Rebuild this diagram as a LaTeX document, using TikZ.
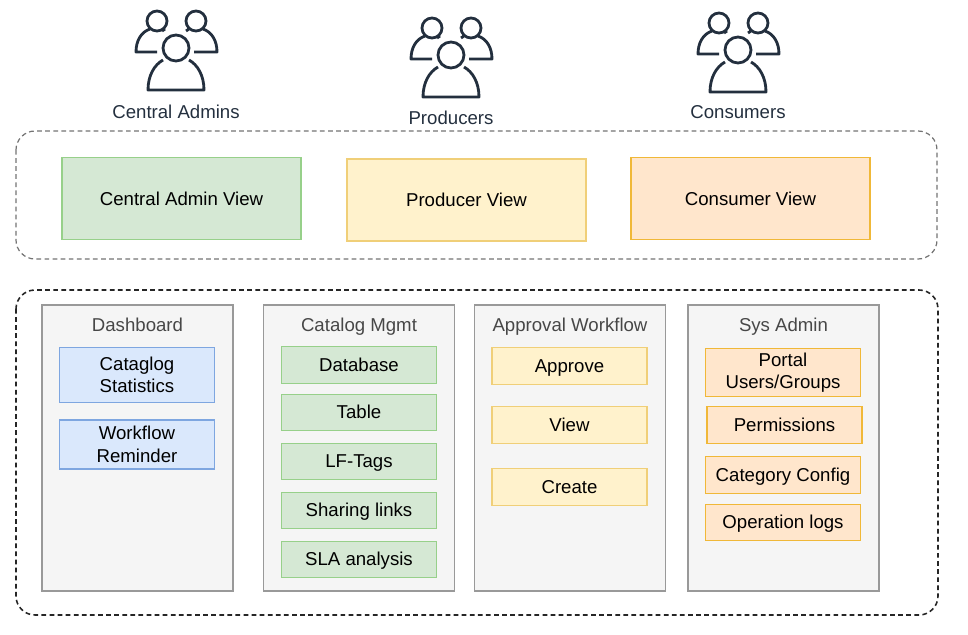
\documentclass[tikz,border=0pt]{standalone}
\usepackage{fontspec}
\setmainfont{Liberation Sans}
\usepackage{xcolor}
\usetikzlibrary{positioning}
\definecolor{navy}{HTML}{232F3E}
\definecolor{greenfill}{HTML}{D5E8D4}
\definecolor{greenline}{HTML}{97D08A}
\definecolor{yellowfill}{HTML}{FFF2CC}
\definecolor{yellowline}{HTML}{F0CF78}
\definecolor{orangefill}{HTML}{FFE6CC}
\definecolor{orangeline}{HTML}{F0B838}
\definecolor{bluefill}{HTML}{DAE8FC}
\definecolor{blueline}{HTML}{7EA6E0}
\definecolor{panelfill}{HTML}{F5F5F5}
\definecolor{panelline}{HTML}{999999}
\tikzset{
	group/.style={rounded corners=0.38cm,dash pattern=on 2.7pt off 1.9pt},
	viewbox/.style={draw,line width=0.8pt,minimum width=4.78cm,minimum height=1.64cm,inner sep=0pt,font=\fontsize{10.6}{12}\selectfont},
	panel/.style={draw=panelline,fill=panelfill,line width=0.9pt,minimum width=3.82cm,minimum height=5.72cm,inner sep=0pt},
	paneltitle/.style={anchor=base,text=black!72,font=\fontsize{10.6}{12}\selectfont},
	item/.style={draw,line width=0.8pt,minimum width=3.1cm,minimum height=0.73cm,inner sep=0pt,align=center,font=\fontsize{10.6}{12.8}\selectfont},
	oneline/.style={text height=7.6pt,text depth=0.3pt},
	dashitem/.style={item,draw=blueline,fill=bluefill},
	catalogitem/.style={item,oneline,draw=greenline,fill=greenfill},
	approvalitem/.style={item,oneline,draw=yellowline,fill=yellowfill},
	sysitem/.style={item,draw=orangeline,fill=orangefill},
	rolelabel/.style={text=navy,anchor=base,font=\fontsize{10.6}{12}\selectfont},
	pics/usergroup/.style={code={
		\draw[navy,line width=1.6pt,line join=round]
			(0,0) circle (0.26cm)
			(-13,12) .. controls (-22,17) and (-28,28) .. (-28,42) -- (28,42) .. controls (28,28) and (22,17) .. (13,12)
			(-19,-27) circle (0.2cm)
			(20,-27) circle (0.2cm)
			(-26,-19) .. controls (-35,-16) and (-40,-7) .. (-40,4) -- (-19,4)
			(-11,-19) -- (-14,-17)
			(27,-19) .. controls (36,-16) and (41,-7) .. (41,4) -- (18,4)
			(10,-17) -- (13,-19);
	}}
}
\begin{document}
\begin{tikzpicture}[x=0.02cm,y=-0.02cm]
	\useasboundingbox (0,0) rectangle (968,635);
	% users
	\pic at (176,48) {usergroup};
	\pic at (451,55) {usergroup};
	\pic at (738,50) {usergroup};
	\node[rolelabel] (admins) at (176,118.5) {Central Admins};
	\node[rolelabel] (producers) at (451,124.5) {Producers};
	\node[rolelabel] (consumers) at (738,118.5) {Consumers};
	
	% views
	\draw[group,draw=black!55,line width=0.7pt] (16,131) rectangle (937,259);
	\node[viewbox,draw=greenline,fill=greenfill] (adminview) at (181.5,198.5) {Central Admin View};
	\node[viewbox,draw=yellowline,fill=yellowfill] (producerview) at (466.5,200) {Producer View};
	\node[viewbox,draw=orangeline,fill=orangefill] (consumerview) at (750.5,198.5) {Consumer View};
	
	% portal
	\draw[group,draw=black!85,line width=0.9pt] (16,290) rectangle (938,615);
	\node[panel] (dashboard) at (137.5,448) {};
	\node[panel] (catalog) at (359,448) {};
	\node[panel] (approval) at (570,448) {};
	\node[panel] (sysadmin) at (783.5,448) {};
	\node[paneltitle] (dashboardtitle) at (137.5,332) {Dashboard};
	\node[paneltitle] (catalogtitle) at (359,332) {Catalog Mgmt};
	\node[paneltitle] (approvaltitle) at (570,332) {Approval Workflow};
	\node[paneltitle] (sysadmintitle) at (783.5,332) {Sys Admin};
	
	\node[dashitem,minimum height=1.1cm] (statistics) at (137,375) {Cataglog\\Statistics};
	\node[dashitem,minimum height=0.98cm] (reminder) at (137,444.5) {Workflow\\Reminder};
	
	\node[catalogitem] (database) at (359,365) {Database};
	\node[catalogitem] (table) at (359,412.5) {Table};
	\node[catalogitem] (lftags) at (359,461.5) {LF-Tags};
	\node[catalogitem] (sharing) at (359,510.5) {Sharing links};
	\node[catalogitem] (sla) at (359,559.5) {SLA analysis};
	
	\node[approvalitem] (approve) at (569.5,366) {Approve};
	\node[approvalitem] (view) at (569.5,425) {View};
	\node[approvalitem] (create) at (569.5,487) {Create};
	
	\node[sysitem,minimum height=0.96cm] (users) at (783,372.5) {Portal\\Users/Groups};
	\node[sysitem,oneline] (permissions) at (784.5,425) {Permissions};
	\node[sysitem,oneline] (category) at (783,475) {Category Config};
	\node[sysitem,oneline] (logs) at (783,522.5) {Operation logs};
\end{tikzpicture}
\end{document}
